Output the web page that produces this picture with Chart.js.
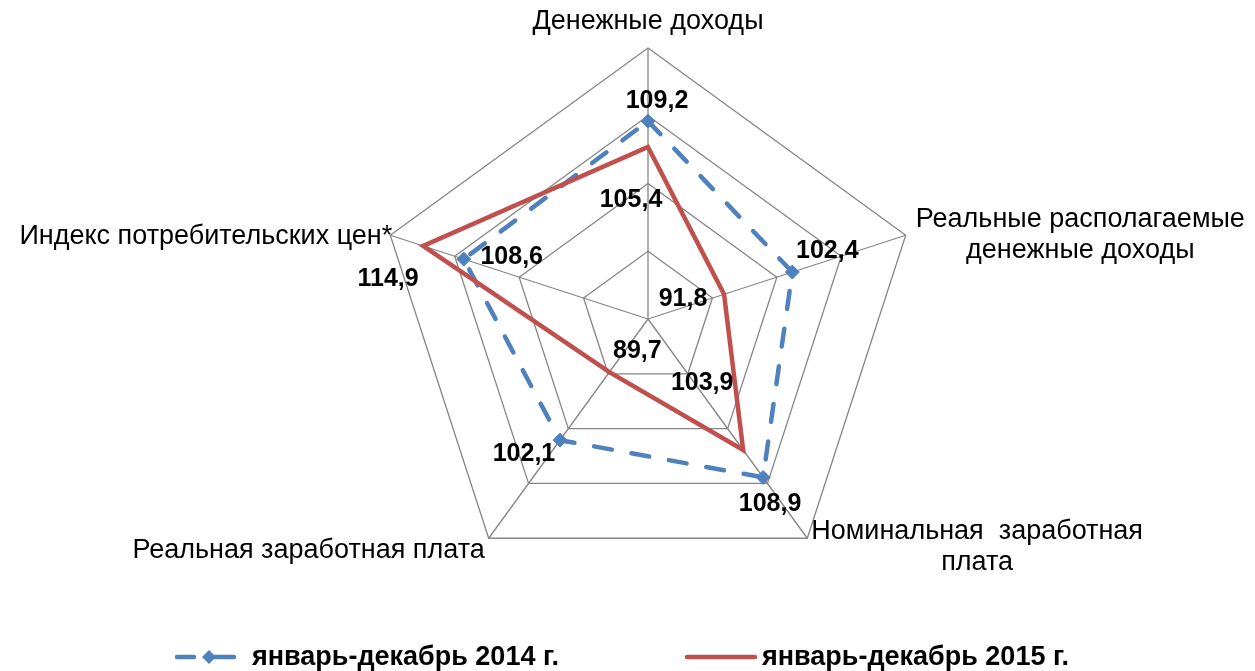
<!DOCTYPE html>
<html lang="ru">
<head>
<meta charset="utf-8">
<title>Денежные доходы населения</title>
<script src="https://cdn.jsdelivr.net/npm/chart.js@4.4.1/dist/chart.umd.min.js"></script>
<style>
  html, body { margin: 0; padding: 0; background: #fff; }
  #wrap { position: relative; width: 1255px; height: 671px; }
</style>
</head>
<body>
<div id="wrap"><canvas id="radarChart"></canvas></div>
<script>
const categories = [
  ['Денежные доходы'],
  ['Реальные располагаемые', 'денежные доходы'],
  ['Номинальная  заработная', 'плата'],
  ['Реальная заработная плата'],
  ['Индекс потребительских цен*']
];
const values2014 = [109.2, 102.4, 108.9, 102.1, 108.6];
const values2015 = [105.4, 91.8, 103.9, 89.7, 114.9];
const seriesNames = ['январь-декабрь 2014 г.', 'январь-декабрь 2015 г.'];
const scaleMin = 80;
const scaleMax = 120;
const scaleStep = 10;

const blue = '#4F81BD';
const red = '#C0504D';
const gridColor = '#868686';
const fontFamily = "'Liberation Sans', Arial, sans-serif";

// value labels were placed by hand in the original, so shift each one from its point
const labelShift = [
  [[9, -20], [35, -21], [7, 27], [-36, 14], [48, -2]],
  [[-17, 53], [-41, 5], [-41, -67], [28, -21], [-35, 33]]
];
// axis titles relative to the outer vertex of each spoke
const axisTitlePos = [
  { dx: 0, dy: -26, align: 'center' },
  { dx: 10, dy: -16, align: 'block' },
  { dx: 4, dy: -7, align: 'block' },
  { dx: -4, dy: 12, align: 'right' },
  { dx: 2, dy: 1, align: 'right' }
];

const fmt = v => v.toFixed(1).replace('.', ',');

const axisTitles = {
  id: 'axisTitles',
  afterDraw(chart) {
    const ctx = chart.ctx;
    const scale = chart.scales.r;
    ctx.save();
    ctx.font = '27px ' + fontFamily;
    ctx.fillStyle = '#000';
    ctx.textBaseline = 'middle';
    categories.forEach((lines, i) => {
      const p = scale.getPointPosition(i, scale.drawingArea);
      const pos = axisTitlePos[i];
      const x = p.x + pos.dx;
      lines.forEach((line, j) => {
        const y = p.y + pos.dy + j * 31;
        if (pos.align === 'block') {
          const w = Math.max(...lines.map(l => ctx.measureText(l).width));
          ctx.textAlign = 'center';
          ctx.fillText(line, x + w / 2, y);
        } else {
          ctx.textAlign = pos.align;
          ctx.fillText(line, x, y);
        }
      });
    });
    ctx.restore();
  }
};

const valueLabels = {
  id: 'valueLabels',
  afterDatasetsDraw(chart) {
    const ctx = chart.ctx;
    ctx.save();
    ctx.font = 'bold 25px ' + fontFamily;
    ctx.fillStyle = '#000';
    ctx.textAlign = 'center';
    ctx.textBaseline = 'middle';
    chart.data.datasets.forEach((ds, di) => {
      const meta = chart.getDatasetMeta(di);
      meta.data.forEach((pt, i) => {
        const s = labelShift[di][i];
        ctx.fillText(fmt(ds.data[i]), pt.x + s[0], pt.y + s[1]);
      });
    });
    ctx.restore();
  }
};

const bottomLegend = {
  id: 'bottomLegend',
  afterDraw(chart) {
    const ctx = chart.ctx;
    const y = 657;
    ctx.save();
    ctx.lineWidth = 4.5;
    ctx.lineCap = 'round';
    // 2014: dashed line with diamond
    ctx.strokeStyle = blue;
    ctx.beginPath();
    ctx.moveTo(177, y); ctx.lineTo(194, y);
    ctx.moveTo(214, y); ctx.lineTo(234, y);
    ctx.stroke();
    ctx.fillStyle = blue;
    ctx.beginPath();
    ctx.moveTo(209, y - 7); ctx.lineTo(216, y); ctx.lineTo(209, y + 7); ctx.lineTo(202, y);
    ctx.closePath();
    ctx.fill();
    // 2015: solid line
    ctx.strokeStyle = red;
    ctx.beginPath();
    ctx.moveTo(687, y); ctx.lineTo(755, y);
    ctx.stroke();

    ctx.font = 'bold 27px ' + fontFamily;
    ctx.fillStyle = '#000';
    ctx.textAlign = 'left';
    ctx.textBaseline = 'middle';
    ctx.fillText(seriesNames[0], 252, y + 1);
    ctx.fillText(seriesNames[1], 762, y + 1);
    ctx.restore();
  }
};

new Chart(document.getElementById('radarChart'), {
  type: 'radar',
  data: {
    labels: categories,
    datasets: [
      {
        label: seriesNames[0],
        data: values2014,
        borderColor: blue,
        backgroundColor: blue,
        borderWidth: 4.5,
        borderDash: [18, 20],
        borderCapStyle: 'round',
        pointStyle: 'rectRot',
        pointRadius: 7,
        pointBorderWidth: 1,
        pointBackgroundColor: blue,
        pointBorderColor: blue,
        fill: false,
        tension: 0,
        order: 1
      },
      {
        label: seriesNames[1],
        data: values2015,
        borderColor: red,
        backgroundColor: red,
        borderWidth: 4.5,
        borderJoinStyle: 'miter',
        pointRadius: 0,
        fill: false,
        tension: 0,
        order: 0
      }
    ]
  },
  options: {
    responsive: true,
    maintainAspectRatio: false,
    animation: false,
    layout: { padding: { top: 48, bottom: 81, left: 300, right: 259 } },
    plugins: {
      legend: { display: false },
      tooltip: { enabled: false }
    },
    scales: {
      r: {
        min: scaleMin,
        max: scaleMax,
        ticks: { stepSize: scaleStep, display: false },
        grid: { color: gridColor, lineWidth: 1.3 },
        angleLines: { color: gridColor, lineWidth: 1.3 },
        pointLabels: { display: false }
      }
    }
  },
  plugins: [axisTitles, valueLabels, bottomLegend]
});
</script>
</body>
</html>
